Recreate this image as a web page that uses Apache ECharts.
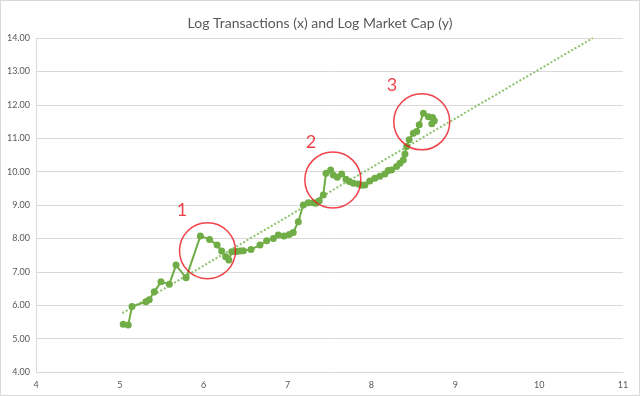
<!DOCTYPE html>
<html>
<head>
<meta charset="utf-8">
<script src="https://cdn.jsdelivr.net/npm/echarts@6/dist/echarts.min.js"></script>
<style>
html,body{margin:0;padding:0;background:#fff;}
#c{width:640px;height:396px;box-sizing:border-box;border:1px solid #d9d9d9;}
</style>
</head>
<body>
<div id="c"></div>
<script>
var titleText = 'Log Transactions (x) and Log Market Cap (y)';
var logTx = [5.04,5.10,5.145,5.31,5.35,5.41,5.49,5.59,5.67,5.79,5.96,6.07,6.16,6.214,6.262,6.30,6.334,6.393,6.433,6.472,6.564,6.671,6.751,6.83,6.889,6.957,7.02,7.068,7.128,7.187,7.247,7.307,7.339,7.378,7.426,7.458,7.514,7.545,7.593,7.645,7.697,7.736,7.784,7.843,7.884,7.923,7.98,8.04,8.10,8.16,8.20,8.24,8.30,8.34,8.38,8.40,8.42,8.45,8.50,8.54,8.57,8.62,8.68,8.73,8.72,8.75];
var logCap = [5.43,5.41,5.96,6.10,6.16,6.40,6.70,6.63,7.20,6.82,8.07,7.97,7.80,7.62,7.45,7.35,7.60,7.61,7.62,7.63,7.67,7.80,7.93,8.00,8.10,8.07,8.12,8.18,8.50,9.00,9.07,9.07,9.05,9.13,9.30,9.95,10.05,9.90,9.83,9.93,9.77,9.70,9.65,9.63,9.59,9.60,9.72,9.80,9.86,9.93,10.03,10.05,10.15,10.25,10.35,10.53,10.75,10.95,11.15,11.20,11.40,11.75,11.64,11.62,11.43,11.52];
var trendX = [5.03, 10.64];
var trendY = [5.76, 14.0];
var noteLabels = ['1','2','3'];
var circleX = [6.045, 7.54, 8.60];
var circleY = [7.63, 9.75, 11.49];
var labelX = [5.74, 7.28, 8.245];
var labelY = [8.85, 10.89, 12.59];
var xTicks = [4,5,6,7,8,9,10,11];
var yTicks = [4,5,6,7,8,9,10,11,12,13,14];

var green = '#70AD47';
var txt = '#595959';
var red = '#e8141c';
var chart = echarts.init(document.getElementById('c'));
chart.setOption({
  animation:false,
  title:{text:titleText,left:'center',top:10,textStyle:{fontFamily:'Lato',fontSize:14,fontWeight:'normal',color:txt}},
  grid:{left:35,right:16,top:37,bottom:23},
  xAxis:{type:'value',min:xTicks[0],max:xTicks[xTicks.length-1],interval:1,
    axisLine:{show:true,lineStyle:{color:'#d9d9d9'}},axisTick:{show:false},
    axisLabel:{color:txt,fontSize:9,fontFamily:'Lato',margin:9},splitLine:{show:false}},
  yAxis:{type:'value',min:yTicks[0],max:yTicks[yTicks.length-1],interval:1,
    axisLine:{show:true,lineStyle:{color:'#d9d9d9'}},axisTick:{show:false},
    axisLabel:{color:txt,fontSize:9,fontFamily:'Lato',margin:6,formatter:function(v){return v.toFixed(2);}},
    splitLine:{show:true,lineStyle:{color:'#d9d9d9',width:1}}},
  series:[
    {type:'line',data:trendX.map(function(x,i){return [x,trendY[i]];}),symbol:'none',
      lineStyle:{color:'#8cc26a',width:2,type:[2,2]},z:1},
    {type:'line',data:logTx.map(function(x,i){return [x,logCap[i]];}),symbol:'circle',symbolSize:7,
      lineStyle:{color:green,width:2},itemStyle:{color:green},z:2},
    {type:'scatter',data:circleX.map(function(x,i){return [x,circleY[i]];}),symbol:'circle',symbolSize:56,
      itemStyle:{color:'rgba(0,0,0,0)',borderColor:red,borderWidth:1.5},z:3,silent:true},
    {type:'scatter',data:labelX.map(function(x,i){return {value:[labelX[i],labelY[i]],name:noteLabels[i]};}),symbolSize:0,
      label:{show:true,position:'inside',formatter:'{b}',color:red,fontSize:18,fontFamily:'Lato'},z:4,silent:true}
  ]
});
</script>
</body>
</html>
